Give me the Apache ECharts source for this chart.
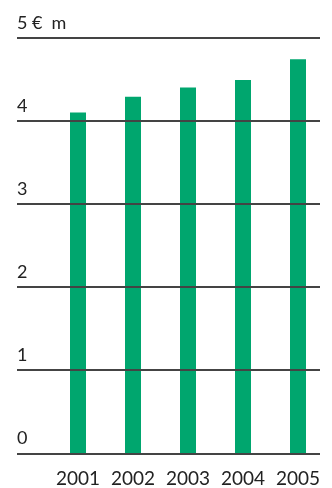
<!DOCTYPE html>
<html><head><meta charset="utf-8">
<script src="https://cdn.jsdelivr.net/npm/echarts@6/dist/echarts.min.js"></script>
<style>html,body{margin:0;padding:0;background:#fff}#c{width:332px;height:488px}</style>
</head><body><div id="c"></div>
<script>
const years = ['2001','2002','2003','2004','2005'];
const sales = [4.10, 4.29, 4.40, 4.49, 4.74];
const tickLabels = {0:'0',1:'1',2:'2',3:'3',4:'4',5:'5 €\u2002m'};

const chart = echarts.init(document.getElementById('c'));
const top_ = 37.7, bottom_ = 34.7;
chart.setOption({
  animation: false,
  grid: [
    {left: 17, right: 12, top: top_, bottom: bottom_},
    {left: 50.5, right: 6.5, top: top_, bottom: bottom_}
  ],
  xAxis: [
    {gridIndex: 0, type: 'value', min: 0, max: 1, show: false},
    {gridIndex: 1, type: 'category', data: years,
     axisLine: {show: false}, axisTick: {show: false},
     axisLabel: {interval: 0, hideOverlap: false, color: '#222', fontSize: 19, fontFamily: 'Lato', margin: 16}}
  ],
  yAxis: [
    {gridIndex: 0, type: 'value', min: 0, max: 5, interval: 1, z: 5,
     axisLine: {show: false}, axisTick: {show: false},
     splitLine: {show: true, lineStyle: {color: '#444', width: 2}},
     axisLabel: {inside: true, margin: 0, verticalAlign: 'bottom', padding: [0,0,6,0],
       color: '#222', fontSize: 18, fontFamily: 'Lato', showMaxLabel: true,
       formatter: v => tickLabels[v]}},
    {gridIndex: 1, type: 'value', min: 0, max: 5, interval: 1, show: false}
  ],
  series: [{
    type: 'bar', xAxisIndex: 1, yAxisIndex: 1, data: sales,
    barWidth: 16, itemStyle: {color: '#00A66E'}, z: 2
  }]
});
</script></body></html>
